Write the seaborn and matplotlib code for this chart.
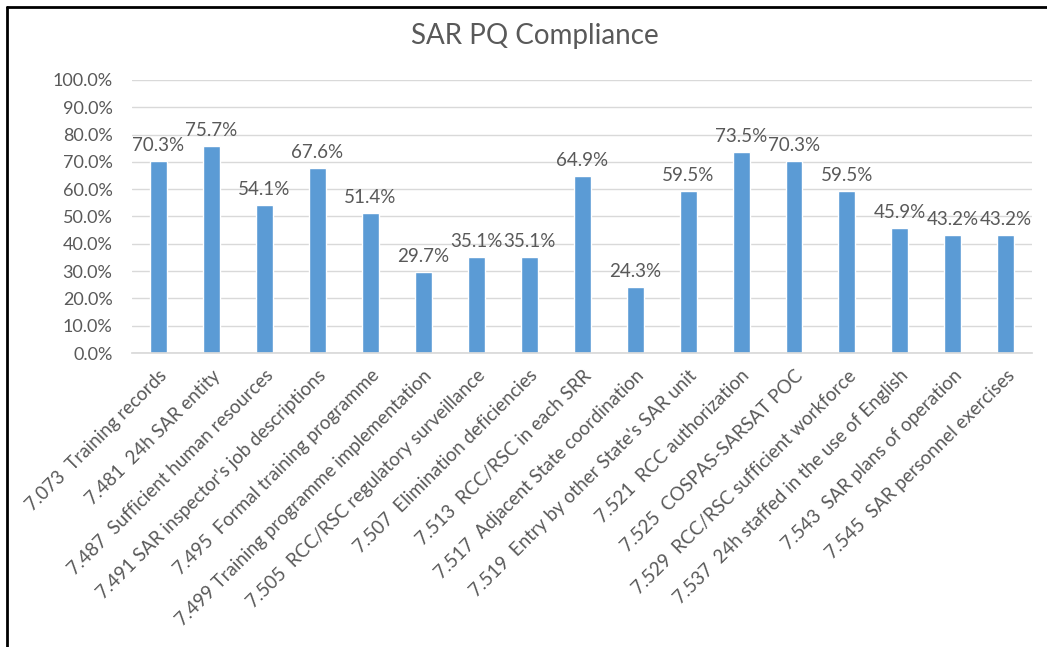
import matplotlib
matplotlib.use("Agg")
import matplotlib.pyplot as plt
import matplotlib.lines as mlines
import seaborn as sns
import pandas as pd
from matplotlib.ticker import FuncFormatter, MultipleLocator

categories = [
    "7.073  Training records",
    "7.481  24h SAR entity",
    "7.487  Sufficient human resources",
    "7.491 SAR inspector's job descriptions",
    "7.495  Formal training programme",
    "7.499 Training programme implementation",
    "7.505  RCC/RSC regulatory surveillance",
    "7.507  Elimination deficiencies",
    "7.513  RCC/RSC in each SRR",
    "7.517  Adjacent State coordination",
    "7.519  Entry by other State's SAR unit",
    "7.521  RCC authorization",
    "7.525  COSPAS-SARSAT POC",
    "7.529  RCC/RSC sufficient workforce",
    "7.537  24h staffed in the use of English",
    "7.543  SAR plans of operation",
    "7.545  SAR personnel exercises",
]
values = [0.703, 0.757, 0.541, 0.676, 0.514, 0.297, 0.351, 0.351, 0.649,
          0.243, 0.595, 0.735, 0.703, 0.595, 0.459, 0.432, 0.432]
title = "SAR PQ Compliance"

sns.set_theme(style="white")
plt.rcParams["font.family"] = ["Lato", "DejaVu Sans"]
text_color = "#595959"
bar_color = "#5B9BD5"

df = pd.DataFrame({"item": categories, "pct": values})

fig = plt.figure(figsize=(10.47, 6.47), dpi=100)
ax = fig.add_axes([0.126, 0.4544, 0.860, 0.422])
sns.barplot(data=df, x="item", y="pct", color=bar_color, width=0.32,
            saturation=1, ax=ax)

ax.set_ylim(0, 1.0)
ax.yaxis.set_major_locator(MultipleLocator(0.1))
ax.yaxis.set_major_formatter(FuncFormatter(lambda v, p: f"{v*100:.1f}%"))
ax.grid(axis="y", color="#D9D9D9", linewidth=1)
ax.set_axisbelow(True)
for s in ["top", "right", "left"]:
    ax.spines[s].set_visible(False)
ax.spines["bottom"].set_color("#D9D9D9")
ax.set_xlabel("")
ax.set_ylabel("")
ax.tick_params(axis="y", labelsize=13, colors=text_color, length=0, pad=14)
ax.tick_params(axis="x", labelsize=13.5, colors=text_color, length=0, pad=10)
plt.setp(ax.get_xticklabels(), rotation=45, ha="right", va="top",
         rotation_mode="anchor")

for c in ax.containers:
    ax.bar_label(c, labels=[f"{v*100:.1f}%" for v in values], padding=5,
                 fontsize=13.5, color=text_color)

fig.text(0.511, 0.945, title, ha="center", va="center", fontsize=20,
         color=text_color)

# outer frame (top and left)
fig.add_artist(mlines.Line2D([0.0067, 1.0], [0.989, 0.989], color="black",
                             linewidth=2, transform=fig.transFigure))
fig.add_artist(mlines.Line2D([0.0067, 0.0067], [0.0, 0.989], color="black",
                             linewidth=2, transform=fig.transFigure))

fig.savefig("out.png", dpi=100, facecolor="white")
